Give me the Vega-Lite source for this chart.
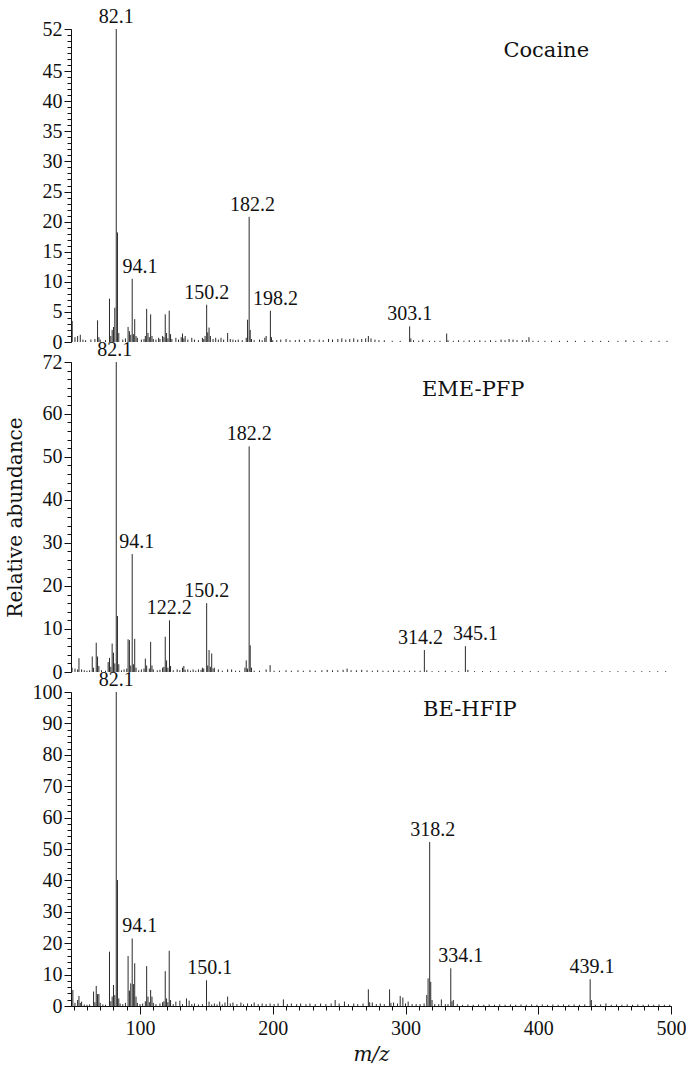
{
  "$schema": "https://vega.github.io/schema/vega-lite/v6.json",
  "padding": {"left": 5, "top": 7, "right": 5, "bottom": 5},
  "background": "white",
  "config": {
    "view": {"stroke": null},
    "font": "Liberation Serif",
    "axis": {"grid": false, "domainColor": "#111", "tickColor": "#111", "labelColor": "#111", "titleColor": "#111", "labelFont": "Liberation Serif", "titleFont": "DejaVu Serif", "labelFontSize": 20, "titleFontSize": 20, "titleFontWeight": "normal", "labelOverlap": false, "labelFlush": false}
  },
  "datasets": {
    "peaks": [
      {"s":"c","mz":48.9,"v":3.5},{"s":"c","mz":51,"v":0.8},{"s":"c","mz":53,"v":1.0},{"s":"c","mz":55,"v":1.2},{"s":"c","mz":57,"v":0.4},{"s":"c","mz":59,"v":0.3},{"s":"c","mz":63,"v":0.4},{"s":"c","mz":66,"v":0.5},{"s":"c","mz":68,"v":3.6},{"s":"c","mz":69,"v":0.8},{"s":"c","mz":70,"v":0.4},{"s":"c","mz":74,"v":0.3},{"s":"c","mz":77,"v":7.2},{"s":"c","mz":78,"v":1.0},{"s":"c","mz":79,"v":2.0},{"s":"c","mz":80,"v":2.5},{"s":"c","mz":81,"v":5.7},{"s":"c","mz":82.1,"v":52},{"s":"c","mz":83,"v":18.2},{"s":"c","mz":84,"v":1.5},{"s":"c","mz":87,"v":0.4},{"s":"c","mz":89,"v":0.6},{"s":"c","mz":91,"v":2.5},{"s":"c","mz":92,"v":1.8},{"s":"c","mz":93,"v":1.2},{"s":"c","mz":94.1,"v":10.5},{"s":"c","mz":95,"v":1.3},{"s":"c","mz":96,"v":3.8},{"s":"c","mz":97,"v":1.0},{"s":"c","mz":98,"v":0.7},{"s":"c","mz":101,"v":0.4},{"s":"c","mz":103,"v":0.5},{"s":"c","mz":104,"v":1.0},{"s":"c","mz":105,"v":5.5},{"s":"c","mz":106,"v":1.5},{"s":"c","mz":107,"v":0.8},{"s":"c","mz":108,"v":4.6},{"s":"c","mz":109,"v":1.0},{"s":"c","mz":110,"v":0.5},{"s":"c","mz":112,"v":0.4},{"s":"c","mz":114,"v":0.7},{"s":"c","mz":115,"v":0.5},{"s":"c","mz":117,"v":1.0},{"s":"c","mz":118,"v":0.8},{"s":"c","mz":119,"v":4.6},{"s":"c","mz":120,"v":1.5},{"s":"c","mz":121,"v":0.6},{"s":"c","mz":122,"v":5.2},{"s":"c","mz":123,"v":1.3},{"s":"c","mz":124,"v":0.5},{"s":"c","mz":127,"v":0.7},{"s":"c","mz":129,"v":0.4},{"s":"c","mz":131,"v":0.8},{"s":"c","mz":132,"v":1.4},{"s":"c","mz":133,"v":0.6},{"s":"c","mz":134,"v":1.0},{"s":"c","mz":136,"v":0.4},{"s":"c","mz":139,"v":0.7},{"s":"c","mz":141,"v":0.4},{"s":"c","mz":144,"v":0.3},{"s":"c","mz":147,"v":0.7},{"s":"c","mz":148,"v":0.5},{"s":"c","mz":149,"v":1.0},{"s":"c","mz":150.2,"v":6.2},{"s":"c","mz":151,"v":1.6},{"s":"c","mz":152,"v":2.4},{"s":"c","mz":153,"v":1.0},{"s":"c","mz":155,"v":0.5},{"s":"c","mz":157,"v":0.7},{"s":"c","mz":159,"v":0.4},{"s":"c","mz":161,"v":0.7},{"s":"c","mz":163,"v":0.4},{"s":"c","mz":166,"v":1.5},{"s":"c","mz":168,"v":0.5},{"s":"c","mz":170,"v":0.4},{"s":"c","mz":172,"v":0.3},{"s":"c","mz":174,"v":0.4},{"s":"c","mz":177,"v":0.3},{"s":"c","mz":180,"v":0.7},{"s":"c","mz":181,"v":3.7},{"s":"c","mz":182.2,"v":20.8},{"s":"c","mz":183,"v":2.0},{"s":"c","mz":184,"v":0.5},{"s":"c","mz":186,"v":0.3},{"s":"c","mz":190,"v":0.4},{"s":"c","mz":192,"v":0.3},{"s":"c","mz":194,"v":0.7},{"s":"c","mz":195,"v":1.0},{"s":"c","mz":198.2,"v":5.2},{"s":"c","mz":199,"v":0.8},{"s":"c","mz":200,"v":0.3},{"s":"c","mz":203,"v":0.3},{"s":"c","mz":206,"v":0.4},{"s":"c","mz":210,"v":0.5},{"s":"c","mz":213,"v":0.3},{"s":"c","mz":217,"v":0.3},{"s":"c","mz":220,"v":0.4},{"s":"c","mz":224,"v":0.3},{"s":"c","mz":228,"v":0.5},{"s":"c","mz":231,"v":0.3},{"s":"c","mz":235,"v":0.4},{"s":"c","mz":238,"v":0.3},{"s":"c","mz":242,"v":0.5},{"s":"c","mz":245,"v":0.4},{"s":"c","mz":249,"v":0.5},{"s":"c","mz":252,"v":0.6},{"s":"c","mz":255,"v":0.4},{"s":"c","mz":258,"v":0.5},{"s":"c","mz":261,"v":0.6},{"s":"c","mz":264,"v":0.4},{"s":"c","mz":267,"v":0.5},{"s":"c","mz":270,"v":0.6},{"s":"c","mz":272,"v":1.0},{"s":"c","mz":274,"v":0.6},{"s":"c","mz":277,"v":0.4},{"s":"c","mz":280,"v":0.3},{"s":"c","mz":284,"v":0.3},{"s":"c","mz":290,"v":0.2},{"s":"c","mz":296,"v":0.2},{"s":"c","mz":303.1,"v":2.6},{"s":"c","mz":304,"v":0.6},{"s":"c","mz":306,"v":0.3},{"s":"c","mz":310,"v":0.2},{"s":"c","mz":313,"v":0.4},{"s":"c","mz":318,"v":0.2},{"s":"c","mz":322,"v":0.2},{"s":"c","mz":326,"v":0.2},{"s":"c","mz":331,"v":1.4},{"s":"c","mz":332,"v":0.3},{"s":"c","mz":336,"v":0.2},{"s":"c","mz":340,"v":0.3},{"s":"c","mz":344,"v":0.2},{"s":"c","mz":348,"v":0.3},{"s":"c","mz":352,"v":0.2},{"s":"c","mz":356,"v":0.3},{"s":"c","mz":360,"v":0.2},{"s":"c","mz":364,"v":0.3},{"s":"c","mz":368,"v":0.2},{"s":"c","mz":372,"v":0.4},{"s":"c","mz":375,"v":0.3},{"s":"c","mz":378,"v":0.5},{"s":"c","mz":381,"v":0.4},{"s":"c","mz":384,"v":0.3},{"s":"c","mz":388,"v":0.3},{"s":"c","mz":391,"v":0.3},{"s":"c","mz":393,"v":0.8},{"s":"c","mz":396,"v":0.2},{"s":"c","mz":400,"v":0.2},{"s":"c","mz":405,"v":0.2},{"s":"c","mz":410,"v":0.2},{"s":"c","mz":416,"v":0.2},{"s":"c","mz":422,"v":0.2},{"s":"c","mz":428,"v":0.2},{"s":"c","mz":435,"v":0.2},{"s":"c","mz":441,"v":0.2},{"s":"c","mz":447,"v":0.2},{"s":"c","mz":453,"v":0.2},{"s":"c","mz":460,"v":0.2},{"s":"c","mz":466,"v":0.3},{"s":"c","mz":472,"v":0.2},{"s":"c","mz":478,"v":0.2},{"s":"c","mz":485,"v":0.2},{"s":"c","mz":491,"v":0.2},{"s":"c","mz":497,"v":0.2},
      {"s":"e","mz":48.8,"v":1.0},{"s":"e","mz":51,"v":0.8},{"s":"e","mz":53,"v":0.6},{"s":"e","mz":54,"v":3.2},{"s":"e","mz":56,"v":0.6},{"s":"e","mz":58,"v":0.4},{"s":"e","mz":60,"v":0.3},{"s":"e","mz":62,"v":0.4},{"s":"e","mz":64,"v":3.6},{"s":"e","mz":65,"v":1.0},{"s":"e","mz":67,"v":6.8},{"s":"e","mz":68,"v":3.6},{"s":"e","mz":69,"v":1.4},{"s":"e","mz":71,"v":0.4},{"s":"e","mz":74,"v":0.3},{"s":"e","mz":76,"v":2.3},{"s":"e","mz":77,"v":3.3},{"s":"e","mz":78,"v":1.2},{"s":"e","mz":79,"v":6.6},{"s":"e","mz":80,"v":4.5},{"s":"e","mz":81,"v":2.0},{"s":"e","mz":82.1,"v":72},{"s":"e","mz":83,"v":13},{"s":"e","mz":84,"v":1.8},{"s":"e","mz":86,"v":0.4},{"s":"e","mz":88,"v":0.6},{"s":"e","mz":90,"v":0.8},{"s":"e","mz":91,"v":7.6},{"s":"e","mz":92,"v":7.4},{"s":"e","mz":93,"v":1.5},{"s":"e","mz":94.1,"v":27.4},{"s":"e","mz":95,"v":1.8},{"s":"e","mz":96,"v":7.7},{"s":"e","mz":97,"v":1.0},{"s":"e","mz":99,"v":0.4},{"s":"e","mz":101,"v":0.6},{"s":"e","mz":103,"v":0.8},{"s":"e","mz":104,"v":3.1},{"s":"e","mz":105,"v":1.5},{"s":"e","mz":107,"v":0.8},{"s":"e","mz":108,"v":7.0},{"s":"e","mz":109,"v":1.5},{"s":"e","mz":110,"v":0.6},{"s":"e","mz":113,"v":0.4},{"s":"e","mz":115,"v":0.5},{"s":"e","mz":117,"v":1.0},{"s":"e","mz":118,"v":1.2},{"s":"e","mz":119,"v":8.2},{"s":"e","mz":120,"v":2.7},{"s":"e","mz":121,"v":1.0},{"s":"e","mz":122.2,"v":12},{"s":"e","mz":123,"v":1.4},{"s":"e","mz":125,"v":0.4},{"s":"e","mz":128,"v":0.6},{"s":"e","mz":130,"v":0.4},{"s":"e","mz":132,"v":1.0},{"s":"e","mz":133,"v":1.4},{"s":"e","mz":134,"v":0.5},{"s":"e","mz":136,"v":0.6},{"s":"e","mz":138,"v":0.3},{"s":"e","mz":140,"v":0.6},{"s":"e","mz":142,"v":0.3},{"s":"e","mz":144,"v":0.6},{"s":"e","mz":146,"v":0.5},{"s":"e","mz":147,"v":1.0},{"s":"e","mz":148,"v":0.8},{"s":"e","mz":150.2,"v":16},{"s":"e","mz":151,"v":1.5},{"s":"e","mz":152,"v":5.1},{"s":"e","mz":153,"v":1.2},{"s":"e","mz":154,"v":4.3},{"s":"e","mz":155,"v":0.8},{"s":"e","mz":156,"v":1.0},{"s":"e","mz":159,"v":0.6},{"s":"e","mz":162,"v":0.3},{"s":"e","mz":166,"v":0.6},{"s":"e","mz":169,"v":0.6},{"s":"e","mz":172,"v":0.3},{"s":"e","mz":175,"v":0.3},{"s":"e","mz":179,"v":1.0},{"s":"e","mz":180,"v":2.7},{"s":"e","mz":181,"v":0.8},{"s":"e","mz":182.2,"v":52.4},{"s":"e","mz":183,"v":6.2},{"s":"e","mz":184,"v":1.0},{"s":"e","mz":186,"v":0.3},{"s":"e","mz":190,"v":0.3},{"s":"e","mz":195,"v":0.6},{"s":"e","mz":198,"v":1.6},{"s":"e","mz":201,"v":0.3},{"s":"e","mz":205,"v":0.3},{"s":"e","mz":210,"v":0.4},{"s":"e","mz":214,"v":0.3},{"s":"e","mz":219,"v":0.4},{"s":"e","mz":223,"v":0.3},{"s":"e","mz":228,"v":0.4},{"s":"e","mz":232,"v":0.3},{"s":"e","mz":237,"v":0.4},{"s":"e","mz":241,"v":0.5},{"s":"e","mz":245,"v":0.4},{"s":"e","mz":249,"v":0.4},{"s":"e","mz":253,"v":0.5},{"s":"e","mz":256,"v":0.8},{"s":"e","mz":259,"v":0.4},{"s":"e","mz":263,"v":0.4},{"s":"e","mz":267,"v":0.5},{"s":"e","mz":271,"v":0.4},{"s":"e","mz":275,"v":0.3},{"s":"e","mz":279,"v":0.4},{"s":"e","mz":283,"v":0.3},{"s":"e","mz":287,"v":0.3},{"s":"e","mz":291,"v":0.4},{"s":"e","mz":295,"v":0.3},{"s":"e","mz":299,"v":0.3},{"s":"e","mz":303,"v":0.3},{"s":"e","mz":307,"v":0.3},{"s":"e","mz":311,"v":0.3},{"s":"e","mz":314.2,"v":5.1},{"s":"e","mz":316,"v":0.4},{"s":"e","mz":320,"v":0.2},{"s":"e","mz":325,"v":0.2},{"s":"e","mz":330,"v":0.3},{"s":"e","mz":335,"v":0.2},{"s":"e","mz":340,"v":0.2},{"s":"e","mz":345.1,"v":6.0},{"s":"e","mz":347,"v":0.5},{"s":"e","mz":352,"v":0.2},{"s":"e","mz":358,"v":0.2},{"s":"e","mz":364,"v":0.2},{"s":"e","mz":370,"v":0.2},{"s":"e","mz":376,"v":0.2},{"s":"e","mz":382,"v":0.2},{"s":"e","mz":388,"v":0.2},{"s":"e","mz":394,"v":0.2},{"s":"e","mz":400,"v":0.2},{"s":"e","mz":406,"v":0.2},{"s":"e","mz":412,"v":0.2},{"s":"e","mz":418,"v":0.2},{"s":"e","mz":424,"v":0.2},{"s":"e","mz":430,"v":0.3},{"s":"e","mz":436,"v":0.2},{"s":"e","mz":442,"v":0.2},{"s":"e","mz":448,"v":0.2},{"s":"e","mz":454,"v":0.2},{"s":"e","mz":460,"v":0.2},{"s":"e","mz":466,"v":0.2},{"s":"e","mz":472,"v":0.2},{"s":"e","mz":478,"v":0.2},{"s":"e","mz":484,"v":0.2},{"s":"e","mz":490,"v":0.2},{"s":"e","mz":496,"v":0.2},
      {"s":"b","mz":49.4,"v":5.1},{"s":"b","mz":51,"v":1.0},{"s":"b","mz":53,"v":1.9},{"s":"b","mz":54,"v":3.2},{"s":"b","mz":55,"v":1.0},{"s":"b","mz":56,"v":1.4},{"s":"b","mz":58,"v":0.5},{"s":"b","mz":60,"v":0.4},{"s":"b","mz":62,"v":0.5},{"s":"b","mz":65,"v":4.6},{"s":"b","mz":66,"v":1.2},{"s":"b","mz":67,"v":6.4},{"s":"b","mz":68,"v":3.8},{"s":"b","mz":69,"v":3.8},{"s":"b","mz":70,"v":1.0},{"s":"b","mz":72,"v":0.5},{"s":"b","mz":74,"v":0.4},{"s":"b","mz":77,"v":17.3},{"s":"b","mz":78,"v":1.5},{"s":"b","mz":79,"v":3.0},{"s":"b","mz":80,"v":6.7},{"s":"b","mz":81,"v":3.5},{"s":"b","mz":82.1,"v":100},{"s":"b","mz":83,"v":40.1},{"s":"b","mz":84,"v":2.4},{"s":"b","mz":85,"v":0.8},{"s":"b","mz":87,"v":0.6},{"s":"b","mz":89,"v":1.0},{"s":"b","mz":91,"v":15.9},{"s":"b","mz":92,"v":4.9},{"s":"b","mz":93,"v":7.2},{"s":"b","mz":94.1,"v":21.5},{"s":"b","mz":95,"v":7.0},{"s":"b","mz":96,"v":13.6},{"s":"b","mz":97,"v":3.0},{"s":"b","mz":98,"v":1.0},{"s":"b","mz":100,"v":0.6},{"s":"b","mz":102,"v":0.8},{"s":"b","mz":104,"v":1.5},{"s":"b","mz":105,"v":12.7},{"s":"b","mz":106,"v":3.0},{"s":"b","mz":107,"v":1.2},{"s":"b","mz":108,"v":5.1},{"s":"b","mz":109,"v":3.0},{"s":"b","mz":110,"v":1.0},{"s":"b","mz":112,"v":0.6},{"s":"b","mz":115,"v":0.8},{"s":"b","mz":117,"v":1.2},{"s":"b","mz":118,"v":1.5},{"s":"b","mz":119,"v":11.1},{"s":"b","mz":120,"v":2.4},{"s":"b","mz":121,"v":1.2},{"s":"b","mz":122,"v":17.6},{"s":"b","mz":123,"v":1.9},{"s":"b","mz":125,"v":0.6},{"s":"b","mz":127,"v":1.4},{"s":"b","mz":130,"v":1.7},{"s":"b","mz":132,"v":0.6},{"s":"b","mz":135,"v":2.4},{"s":"b","mz":137,"v":1.7},{"s":"b","mz":139,"v":0.6},{"s":"b","mz":141,"v":0.8},{"s":"b","mz":144,"v":0.5},{"s":"b","mz":147,"v":0.6},{"s":"b","mz":150.1,"v":8.2},{"s":"b","mz":152,"v":1.4},{"s":"b","mz":154,"v":0.5},{"s":"b","mz":156,"v":0.8},{"s":"b","mz":158,"v":0.5},{"s":"b","mz":160,"v":1.4},{"s":"b","mz":162,"v":0.5},{"s":"b","mz":164,"v":1.1},{"s":"b","mz":166,"v":3.0},{"s":"b","mz":168,"v":0.8},{"s":"b","mz":170,"v":1.1},{"s":"b","mz":173,"v":0.6},{"s":"b","mz":176,"v":1.1},{"s":"b","mz":178,"v":0.5},{"s":"b","mz":181,"v":0.8},{"s":"b","mz":184,"v":0.6},{"s":"b","mz":186,"v":1.1},{"s":"b","mz":189,"v":0.6},{"s":"b","mz":192,"v":0.8},{"s":"b","mz":195,"v":0.6},{"s":"b","mz":198,"v":0.8},{"s":"b","mz":201,"v":0.6},{"s":"b","mz":204,"v":0.8},{"s":"b","mz":208,"v":2.1},{"s":"b","mz":211,"v":0.6},{"s":"b","mz":214,"v":0.8},{"s":"b","mz":218,"v":0.6},{"s":"b","mz":221,"v":0.8},{"s":"b","mz":225,"v":0.6},{"s":"b","mz":228,"v":0.8},{"s":"b","mz":232,"v":0.6},{"s":"b","mz":236,"v":0.8},{"s":"b","mz":240,"v":0.6},{"s":"b","mz":244,"v":0.8},{"s":"b","mz":247,"v":1.9},{"s":"b","mz":250,"v":0.8},{"s":"b","mz":254,"v":1.4},{"s":"b","mz":257,"v":0.6},{"s":"b","mz":261,"v":0.8},{"s":"b","mz":264,"v":0.6},{"s":"b","mz":268,"v":0.8},{"s":"b","mz":272,"v":5.3},{"s":"b","mz":273,"v":1.2},{"s":"b","mz":275,"v":1.1},{"s":"b","mz":278,"v":0.6},{"s":"b","mz":281,"v":0.8},{"s":"b","mz":284,"v":0.6},{"s":"b","mz":288,"v":5.3},{"s":"b","mz":289,"v":1.0},{"s":"b","mz":291,"v":1.1},{"s":"b","mz":294,"v":0.8},{"s":"b","mz":296,"v":3.2},{"s":"b","mz":298,"v":2.7},{"s":"b","mz":300,"v":0.8},{"s":"b","mz":302,"v":1.4},{"s":"b","mz":305,"v":0.6},{"s":"b","mz":308,"v":0.6},{"s":"b","mz":311,"v":0.6},{"s":"b","mz":314,"v":0.8},{"s":"b","mz":316,"v":3.5},{"s":"b","mz":317,"v":8.8},{"s":"b","mz":318.2,"v":52.2},{"s":"b","mz":319,"v":7.7},{"s":"b","mz":320,"v":1.9},{"s":"b","mz":322,"v":0.6},{"s":"b","mz":325,"v":0.6},{"s":"b","mz":327,"v":2.1},{"s":"b","mz":330,"v":0.6},{"s":"b","mz":332,"v":0.6},{"s":"b","mz":334.1,"v":12.0},{"s":"b","mz":335,"v":1.5},{"s":"b","mz":336,"v":1.9},{"s":"b","mz":339,"v":0.6},{"s":"b","mz":343,"v":0.4},{"s":"b","mz":347,"v":0.5},{"s":"b","mz":351,"v":0.4},{"s":"b","mz":355,"v":0.5},{"s":"b","mz":359,"v":0.4},{"s":"b","mz":363,"v":0.5},{"s":"b","mz":367,"v":0.4},{"s":"b","mz":371,"v":0.5},{"s":"b","mz":375,"v":0.4},{"s":"b","mz":379,"v":0.5},{"s":"b","mz":383,"v":0.4},{"s":"b","mz":387,"v":0.5},{"s":"b","mz":391,"v":0.4},{"s":"b","mz":395,"v":0.5},{"s":"b","mz":399,"v":0.4},{"s":"b","mz":403,"v":0.5},{"s":"b","mz":407,"v":0.4},{"s":"b","mz":411,"v":0.5},{"s":"b","mz":415,"v":0.4},{"s":"b","mz":419,"v":0.5},{"s":"b","mz":423,"v":0.4},{"s":"b","mz":427,"v":0.5},{"s":"b","mz":431,"v":0.4},{"s":"b","mz":435,"v":0.5},{"s":"b","mz":439.1,"v":8.5},{"s":"b","mz":440,"v":1.9},{"s":"b","mz":443,"v":0.4},{"s":"b","mz":447,"v":0.5},{"s":"b","mz":451,"v":0.8},{"s":"b","mz":455,"v":0.4},{"s":"b","mz":459,"v":0.5},{"s":"b","mz":463,"v":0.4},{"s":"b","mz":467,"v":0.5},{"s":"b","mz":471,"v":0.4},{"s":"b","mz":475,"v":0.5},{"s":"b","mz":479,"v":0.4},{"s":"b","mz":483,"v":0.5},{"s":"b","mz":487,"v":0.4},{"s":"b","mz":491,"v":0.5},{"s":"b","mz":495,"v":0.4},{"s":"b","mz":499,"v":0.4}
    ],
    "labels": [
      {"s":"c","x":82.1,"v":52,"t":"82.1"},{"s":"c","x":100,"v":10.5,"t":"94.1"},{"s":"c","x":150.2,"v":6.2,"t":"150.2"},{"s":"c","x":184.8,"v":20.8,"t":"182.2"},{"s":"c","x":202,"v":5.2,"t":"198.2"},{"s":"c","x":303.1,"v":2.6,"t":"303.1"},
      {"s":"e","x":81,"v":72,"t":"82.1"},{"s":"e","x":97.5,"v":27.4,"t":"94.1"},{"s":"e","x":122,"v":12,"t":"122.2"},{"s":"e","x":150.2,"v":16,"t":"150.2"},{"s":"e","x":182.2,"v":52.4,"t":"182.2"},{"s":"e","x":311.2,"v":5.1,"t":"314.2"},{"s":"e","x":352.7,"v":6.0,"t":"345.1"},
      {"s":"b","x":82.1,"v":100,"t":"82.1"},{"s":"b","x":99.8,"v":21.5,"t":"94.1"},{"s":"b","x":152.5,"v":8.2,"t":"150.1"},{"s":"b","x":320.5,"v":52.2,"t":"318.2"},{"s":"b","x":341.7,"v":12.0,"t":"334.1"},{"s":"b","x":440.5,"v":8.5,"t":"439.1"}
    ],
    "names": [
      {"s":"c","x":406,"v":48.4,"t":"Cocaine"},
      {"s":"e","x":351,"v":65.5,"t":"EME-PFP"},
      {"s":"b","x":348.5,"v":94.3,"t":"BE-HFIP"}
    ]
  },
  "bounds": "flush",
  "spacing": 20,
  "vconcat": [
    {
      "width": 600, "height": 313,
      "resolve": {"axis": {"y": "independent"}},
      "layer": [
        {"data": {"name": "peaks"}, "transform": [{"filter": "datum.s === 'c'"}],
         "mark": {"type": "rule", "color": "#2b2b2b", "strokeWidth": 1},
         "encoding": {
           "x": {"field": "mz", "type": "quantitative", "scale": {"domain": [48, 500], "nice": false, "zero": false}, "axis": {"labels": false, "ticks": false, "title": null}},
           "y": {"field": "v", "type": "quantitative", "scale": {"domain": [0, 52], "nice": false}, "axis": {"orient": "left", "title": null, "values": [0,5,10,15,20,25,30,35,40,45,52], "tickSize": 7, "labelPadding": 2}},
           "y2": {"datum": 0}
         }},
        {"data": {"name": "labels"}, "transform": [{"filter": "datum.s === 'c'"}],
         "mark": {"type": "text", "font": "Liberation Serif", "fontSize": 20, "align": "center", "baseline": "alphabetic", "dy": -6, "color": "#111"},
         "encoding": {"x": {"field": "x", "type": "quantitative", "axis": null}, "y": {"field": "v", "type": "quantitative", "axis": {"orient": "left", "title": null, "labels": false, "domain": false, "tickSize": 4, "values": [0,1,2,3,4,5,6,7,8,9,10,11,12,13,14,15,16,17,18,19,20,21,22,23,24,25,26,27,28,29,30,31,32,33,34,35,36,37,38,39,40,41,42,43,44,45,46,47,48,49,50,51,52]}}, "text": {"field": "t"}}},
        {"data": {"name": "names"}, "transform": [{"filter": "datum.s === 'c'"}],
         "mark": {"type": "text", "font": "DejaVu Serif", "fontSize": 21, "align": "center", "baseline": "middle", "color": "#111"},
         "encoding": {"x": {"field": "x", "type": "quantitative", "axis": null}, "y": {"field": "v", "type": "quantitative", "axis": null}, "text": {"field": "t"}}}
      ]
    },
    {
      "width": 600, "height": 310,
      "resolve": {"axis": {"y": "independent"}},
      "layer": [
        {"data": {"name": "peaks"}, "transform": [{"filter": "datum.s === 'e'"}],
         "mark": {"type": "rule", "color": "#2b2b2b", "strokeWidth": 1},
         "encoding": {
           "x": {"field": "mz", "type": "quantitative", "scale": {"domain": [48, 500], "nice": false, "zero": false}, "axis": {"labels": false, "ticks": false, "title": null}},
           "y": {"field": "v", "type": "quantitative", "scale": {"domain": [0, 72], "nice": false}, "axis": {"orient": "left", "title": "Relative abundance", "titlePadding": 17, "values": [0,10,20,30,40,50,60,72], "tickSize": 7, "labelPadding": 2}},
           "y2": {"datum": 0}
         }},
        {"data": {"name": "labels"}, "transform": [{"filter": "datum.s === 'e'"}],
         "mark": {"type": "text", "font": "Liberation Serif", "fontSize": 20, "align": "center", "baseline": "alphabetic", "dy": -6, "color": "#111"},
         "encoding": {"x": {"field": "x", "type": "quantitative", "axis": null}, "y": {"field": "v", "type": "quantitative", "axis": {"orient": "left", "title": null, "labels": false, "domain": false, "tickSize": 4, "values": [0,2,4,6,8,10,12,14,16,18,20,22,24,26,28,30,32,34,36,38,40,42,44,46,48,50,52,54,56,58,60,62,64,66,68,70,72]}}, "text": {"field": "t"}}},
        {"data": {"name": "names"}, "transform": [{"filter": "datum.s === 'e'"}],
         "mark": {"type": "text", "font": "DejaVu Serif", "fontSize": 21, "align": "center", "baseline": "middle", "color": "#111"},
         "encoding": {"x": {"field": "x", "type": "quantitative", "axis": null}, "y": {"field": "v", "type": "quantitative", "axis": null}, "text": {"field": "t"}}}
      ]
    },
    {
      "width": 600, "height": 314,
      "resolve": {"axis": {"y": "independent", "x": "independent"}},
      "layer": [
        {"data": {"name": "peaks"}, "transform": [{"filter": "datum.s === 'b'"}],
         "mark": {"type": "rule", "color": "#2b2b2b", "strokeWidth": 1},
         "encoding": {
           "x": {"field": "mz", "type": "quantitative", "scale": {"domain": [48, 500], "nice": false, "zero": false}, "axis": {"orient": "bottom", "title": "m/z", "titleFontStyle": "italic", "titlePadding": 6, "values": [100,200,300,400,500], "tickSize": 8, "labelPadding": 4}},
           "y": {"field": "v", "type": "quantitative", "scale": {"domain": [0, 100], "nice": false}, "axis": {"orient": "left", "title": null, "values": [0,10,20,30,40,50,60,70,80,90,100], "tickSize": 7, "labelPadding": 2}},
           "y2": {"datum": 0}
         }},
        {"data": {"name": "labels"}, "transform": [{"filter": "datum.s === 'b'"}],
         "mark": {"type": "text", "font": "Liberation Serif", "fontSize": 20, "align": "center", "baseline": "alphabetic", "dy": -6, "color": "#111"},
         "encoding": {"x": {"field": "x", "type": "quantitative", "axis": {"orient": "bottom", "title": null, "labels": false, "domain": false, "tickSize": 4, "values": [50,60,70,80,90,100,110,120,130,140,150,160,170,180,190,200,210,220,230,240,250,260,270,280,290,300,310,320,330,340,350,360,370,380,390,400,410,420,430,440,450,460,470,480,490,500]}}, "y": {"field": "v", "type": "quantitative", "axis": {"orient": "left", "title": null, "labels": false, "domain": false, "tickSize": 4, "values": [0,2,4,6,8,10,12,14,16,18,20,22,24,26,28,30,32,34,36,38,40,42,44,46,48,50,52,54,56,58,60,62,64,66,68,70,72,74,76,78,80,82,84,86,88,90,92,94,96,98,100]}}, "text": {"field": "t"}}},
        {"data": {"name": "names"}, "transform": [{"filter": "datum.s === 'b'"}],
         "mark": {"type": "text", "font": "DejaVu Serif", "fontSize": 21, "align": "center", "baseline": "middle", "color": "#111"},
         "encoding": {"x": {"field": "x", "type": "quantitative", "axis": null}, "y": {"field": "v", "type": "quantitative", "axis": null}, "text": {"field": "t"}}}
      ]
    }
  ]
}
